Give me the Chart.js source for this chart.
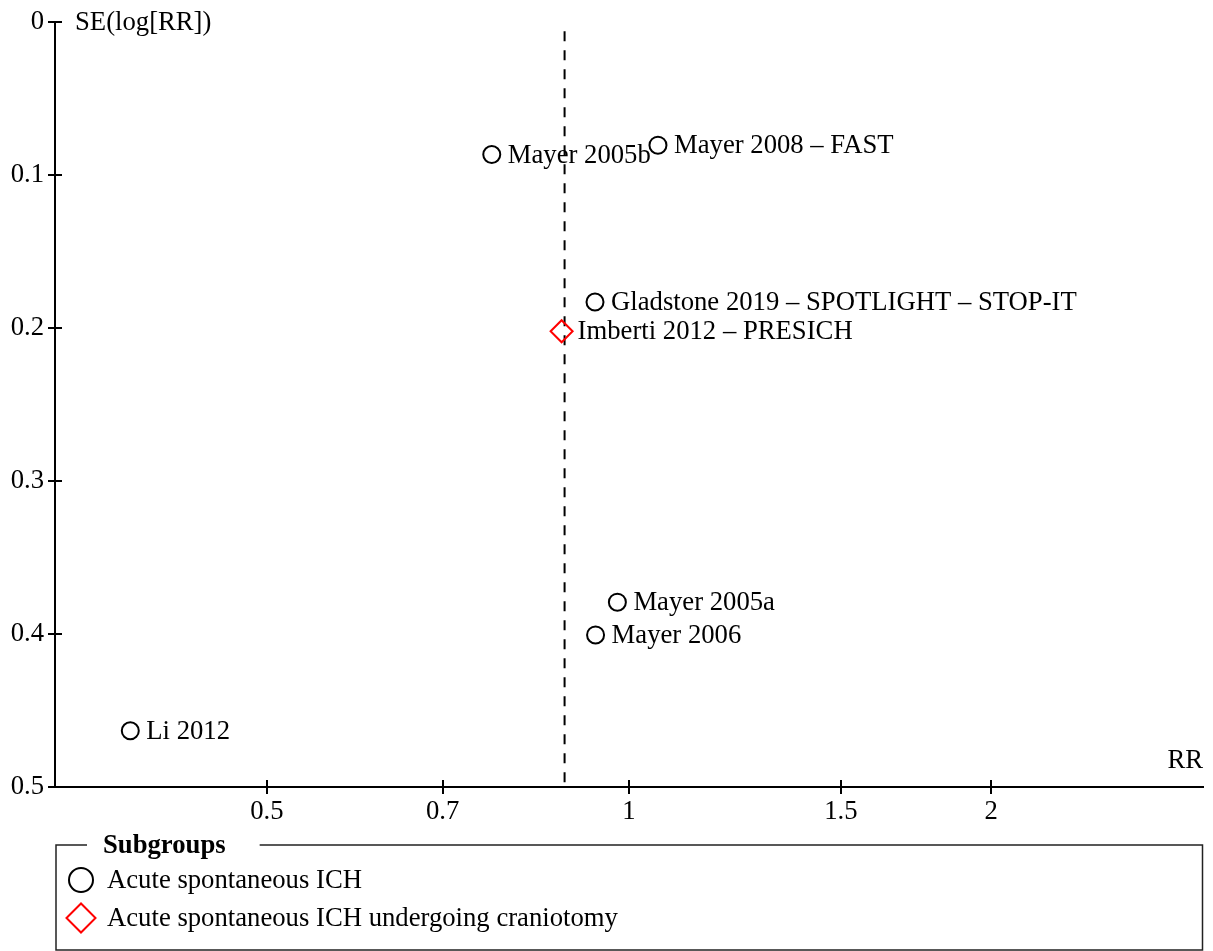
<!DOCTYPE html>
<html>
<head>
<meta charset="utf-8">
<script src="https://cdn.jsdelivr.net/npm/chart.js@4.4.1/dist/chart.umd.min.js"></script>
<style>
html,body{margin:0;padding:0;background:#fff;}
canvas{display:block;}
</style>
</head>
<body>
<canvas id="c" width="1213" height="951"></canvas>
<script>
// ---- data ----
const subgroupNames = ['Acute spontaneous ICH', 'Acute spontaneous ICH undergoing craniotomy'];
const studiesA = ['Mayer 2005b', 'Mayer 2008 \u2013 FAST', 'Gladstone 2019 \u2013 SPOTLIGHT \u2013 STOP-IT', 'Mayer 2005a', 'Mayer 2006', 'Li 2012'];
const rrA = [0.769, 1.057, 0.937, 0.978, 0.938, 0.385];
const seA = [0.0866, 0.0805, 0.183, 0.3792, 0.4006, 0.4632];
const studiesB = ['Imberti 2012 \u2013 PRESICH'];
const rrB = [0.879];
const seB = [0.2021];
const pooledRR = 0.884;
const refLineSE = [0.006, 0.5];
const xTickValues = [0.5, 0.7, 1, 1.5, 2];
const xTickLabels = ['0.5', '0.7', '1', '1.5', '2'];
const yTickValues = [0, 0.1, 0.2, 0.3, 0.4, 0.5];
const yTickLabels = ['0', '0.1', '0.2', '0.3', '0.4', '0.5'];
const xTitle = 'RR';
const yTitle = 'SE(log[RR])';
const legendTitle = 'Subgroups';

const FONT = '"Liberation Serif", "Times New Roman", serif';
const FS = 26.7;
Chart.defaults.font.family = FONT;
Chart.defaults.font.size = FS;
Chart.defaults.color = '#000';

const toPts = (xs, ys) => xs.map((x, i) => ({x: x, y: ys[i]}));

const labelsPlugin = {
  id: 'pointLabels',
  afterDatasetsDraw(chart) {
    const ctx = chart.ctx;
    ctx.save();
    ctx.font = FS + 'px ' + FONT;
    ctx.fillStyle = '#000';
    ctx.textAlign = 'left';
    ctx.textBaseline = 'middle';
    chart.data.datasets.forEach((ds, di) => {
      if (!ds.studyNames) return;
      const meta = chart.getDatasetMeta(di);
      meta.data.forEach((el, i) => {
        ctx.fillText(ds.studyNames[i], el.x + 16, el.y + 1);
      });
    });
    ctx.restore();
  }
};

const axesPlugin = {
  id: 'axisExtras',
  afterDraw(chart) {
    const ctx = chart.ctx;
    const ca = chart.chartArea;
    const xs = chart.scales.x, ys = chart.scales.y;
    ctx.save();
    ctx.strokeStyle = '#000';
    ctx.lineWidth = 2;
    xTickValues.forEach(v => {
      const px = Math.round(xs.getPixelForValue(v));
      ctx.beginPath(); ctx.moveTo(px, ca.bottom - 7); ctx.lineTo(px, ca.bottom + 7); ctx.stroke();
    });
    yTickValues.forEach(v => {
      const py = Math.round(ys.getPixelForValue(v));
      ctx.beginPath(); ctx.moveTo(ca.left - 7, py); ctx.lineTo(v === 0.5 ? ca.left : ca.left + 7, py); ctx.stroke();
    });
    ctx.fillStyle = '#000';
    ctx.font = FS + 'px ' + FONT;
    ctx.textBaseline = 'middle';
    ctx.textAlign = 'left';
    ctx.fillText(yTitle, ca.left + 20, ca.top + 1);
    ctx.textAlign = 'right';
    ctx.textBaseline = 'alphabetic';
    ctx.fillText(xTitle, ca.right, ca.bottom - 19);

    const L = ca.left + 1, R = ca.right - 0.5, T = ca.bottom + 58, B = chart.height - 1;
    ctx.lineWidth = 1.5;
    ctx.strokeStyle = '#222';
    ctx.font = 'bold ' + FS + 'px ' + FONT;
    const tw = ctx.measureText(legendTitle).width;
    const titleX = L + 47;
    ctx.beginPath();
    ctx.moveTo(L + 31, T); ctx.lineTo(L, T); ctx.lineTo(L, B); ctx.lineTo(R, B); ctx.lineTo(R, T); ctx.lineTo(titleX + tw + 34, T);
    ctx.stroke();
    ctx.textAlign = 'left';
    ctx.textBaseline = 'middle';
    ctx.fillText(legendTitle, titleX, T + 1);
    ctx.font = FS + 'px ' + FONT;
    const items = chart.data.datasets.filter(d => d.studyNames);
    items.forEach((ds, i) => {
      const cy = T + 35 + i * 38;
      const cx = L + 25;
      ctx.lineWidth = 2;
      ctx.strokeStyle = ds.borderColor;
      ctx.beginPath();
      if (ds.pointStyle === 'rectRot') {
        const h = 14.5;
        ctx.moveTo(cx - h, cy); ctx.lineTo(cx, cy - h); ctx.lineTo(cx + h, cy); ctx.lineTo(cx, cy + h); ctx.closePath();
      } else {
        ctx.arc(cx, cy, 12, 0, Math.PI * 2);
      }
      ctx.stroke();
      ctx.fillStyle = '#000';
      ctx.fillText(ds.label, L + 51, cy + 1);
    });
    ctx.restore();
  }
};

new Chart(document.getElementById('c'), {
  type: 'scatter',
  data: {
    datasets: [
      {
        label: subgroupNames[0],
        studyNames: studiesA,
        data: toPts(rrA, seA),
        pointStyle: 'circle',
        pointRadius: 8.5,
        borderColor: '#000',
        backgroundColor: 'rgba(0,0,0,0)',
        borderWidth: 2
      },
      {
        label: subgroupNames[1],
        studyNames: studiesB,
        data: toPts(rrB, seB),
        pointStyle: 'rectRot',
        pointRadius: 11,
        borderColor: '#ff0000',
        backgroundColor: 'rgba(0,0,0,0)',
        borderWidth: 2
      },
      {
        type: 'line',
        label: 'pooled',
        data: refLineSE.map(s => ({x: pooledRR, y: s})),
        borderColor: '#000',
        borderWidth: 2,
        borderDash: [10, 9],
        pointRadius: 0,
        fill: false
      }
    ]
  },
  options: {
    responsive: false,
    animation: false,
    devicePixelRatio: 1,
    layout: {autoPadding: false, padding: {left: 0, top: 22, right: 10, bottom: 0}},
    plugins: {legend: {display: false}, tooltip: {enabled: false}},
    scales: {
      x: {
        type: 'logarithmic',
        bounds: 'data',
        min: 1/3,
        max: 3,
        grid: {display: false, drawTicks: false},
        border: {display: true, color: '#000', width: 2},
        afterBuildTicks: s => { s.ticks = xTickValues.map(v => ({value: v})); },
        afterFit: s => { s.height = 164; s.paddingLeft = 0; s.paddingRight = 0; },
        ticks: {
          autoSkip: false, maxRotation: 0, padding: 9,
          callback: (v, i) => xTickLabels[i]
        }
      },
      y: {
        type: 'linear',
        reverse: true,
        min: 0,
        max: 0.5,
        grid: {display: false, drawTicks: false},
        border: {display: true, color: '#000', width: 2},
        afterBuildTicks: s => { s.ticks = yTickValues.map(v => ({value: v})); },
        afterFit: s => { s.width = 55; s.paddingTop = 0; s.paddingBottom = 0; },
        ticks: {
          autoSkip: false, padding: 11,
          callback: (v, i) => yTickLabels[i]
        }
      }
    }
  },
  plugins: [labelsPlugin, axesPlugin]
});
</script>
</body>
</html>
